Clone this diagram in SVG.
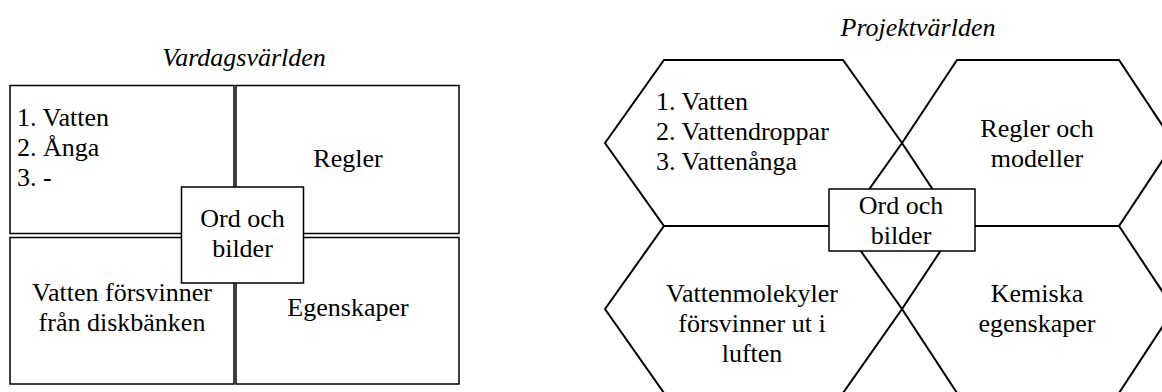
<svg xmlns="http://www.w3.org/2000/svg" width="1162" height="392" viewBox="0 0 1162 392">
  <style>
    .cell { fill: #ffffff; stroke: #000000; stroke-width: 1.5; }
    .hex { fill: none; stroke: #000000; stroke-width: 2; stroke-linejoin: miter; }
    .hub { fill: #ffffff; stroke: #000000; stroke-width: 1.5; }
    text { font-family: "Liberation Serif", "Times New Roman", Times, serif; font-size: 26px; fill: #000000; }
    .title { font-style: italic; text-anchor: middle; }
    .mid { text-anchor: middle; }
  </style>

  <rect width="1162" height="392" fill="#ffffff"/>

  <!-- Everyday world: four quadrants around a central box -->
  <text class="title" x="244" y="66">Vardagsvärlden</text>

  <g id="everyday-names">
    <rect class="cell" x="10" y="85.5" width="224" height="148"/>
    <text x="17" y="126">1. Vatten</text>
    <text x="17" y="156">2. Ånga</text>
    <text x="17" y="186">3. -</text>
  </g>
  <g id="everyday-rules">
    <rect class="cell" x="236" y="85.5" width="223" height="148"/>
    <text class="mid" x="348" y="167">Regler</text>
  </g>
  <g id="everyday-observation">
    <rect class="cell" x="10" y="237.5" width="224" height="146.5"/>
    <text class="mid" x="122" y="301">Vatten försvinner</text>
    <text class="mid" x="122" y="331">från diskbänken</text>
  </g>
  <g id="everyday-properties">
    <rect class="cell" x="236" y="237.5" width="223" height="146.5"/>
    <text class="mid" x="348" y="316">Egenskaper</text>
  </g>
  <g id="everyday-hub">
    <rect class="hub" x="181.5" y="187" width="122" height="96"/>
    <text class="mid" x="242.5" y="227">Ord och</text>
    <text class="mid" x="242.5" y="257">bilder</text>
  </g>

  <!-- Project world: four hexagons meeting at a central box -->
  <text class="title" x="918" y="36">Projektvärlden</text>

  <g id="project-names">
    <polygon class="hex" points="605,143 664,60 843,60 902,143 843,226 664,226"/>
    <text x="656" y="110">1. Vatten</text>
    <text x="656" y="140">2. Vattendroppar</text>
    <text x="656" y="170">3. Vattenånga</text>
  </g>
  <g id="project-rules">
    <polygon class="hex" points="902,143 957,60 1119,60 1174,143 1119,226 957,226"/>
    <text class="mid" x="1037" y="137">Regler och</text>
    <text class="mid" x="1037" y="167">modeller</text>
  </g>
  <g id="project-observation">
    <polygon class="hex" points="605,309 664,226 843,226 902,309 843,393 664,393"/>
    <text class="mid" x="752" y="302">Vattenmolekyler</text>
    <text class="mid" x="752" y="332">försvinner ut i</text>
    <text class="mid" x="752" y="362">luften</text>
  </g>
  <g id="project-properties">
    <polygon class="hex" points="902,309 957,226 1119,226 1174,309 1119,393 957,393"/>
    <text class="mid" x="1037" y="302">Kemiska</text>
    <text class="mid" x="1037" y="332">egenskaper</text>
  </g>
  <g id="project-hub">
    <rect class="hub" x="829" y="189" width="146" height="62"/>
    <text class="mid" x="901" y="214">Ord och</text>
    <text class="mid" x="901" y="244">bilder</text>
  </g>
</svg>
